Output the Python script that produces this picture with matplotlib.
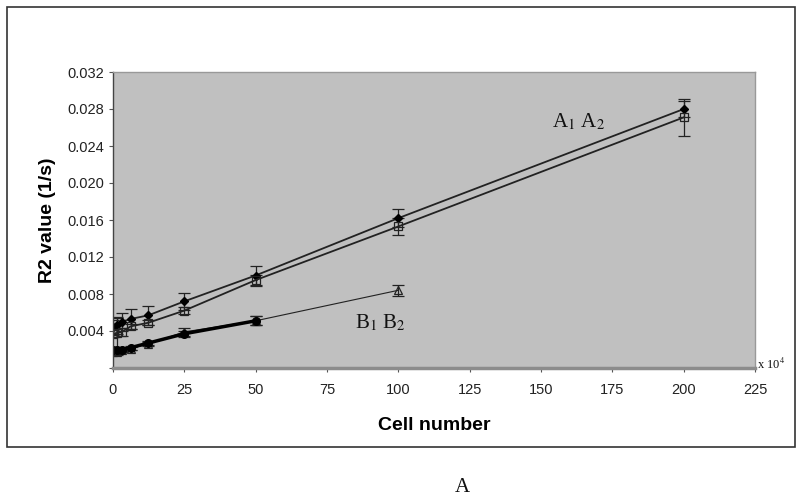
import matplotlib
matplotlib.use("Agg")
import matplotlib.pyplot as plt
from matplotlib.patches import Rectangle
from matplotlib import font_manager

cells = [0, 1.56, 3.125, 6.25, 12.5, 25, 50, 100, 200]
a1 = [0.0044, 0.0046, 0.0050, 0.0053, 0.0057, 0.0072, 0.0100, 0.0162, 0.0280]
a1_err = [0.0008, 0.0009, 0.0010, 0.0011, 0.0010, 0.0009, 0.0010, 0.0010, 0.0009]
a2 = [0.0037, 0.0038, 0.0039, 0.0045, 0.0049, 0.0062, 0.0095, 0.0153, 0.0271]
a2_err = [0.0004, 0.0016, 0.0004, 0.0003, 0.0003, 0.0004, 0.0006, 0.0009, 0.0020]

cells_b1 = [0, 1.56, 3.125, 6.25, 12.5, 25, 50]
b1 = [0.0019, 0.0019, 0.0020, 0.0022, 0.0027, 0.0037, 0.0051]
b1_err = [0.0002, 0.0002, 0.0002, 0.0002, 0.0002, 0.0003, 0.0005]
cells_b2 = [0, 1.56, 3.125, 6.25, 12.5, 25, 50, 100]
b2 = [0.0017, 0.0017, 0.0019, 0.0021, 0.0026, 0.0039, 0.0051, 0.0084]
b2_err = [0.0003, 0.0003, 0.0002, 0.0002, 0.0002, 0.0004, 0.0005, 0.0006]

xticks = [0, 25, 50, 75, 100, 125, 150, 175, 200, 225]
yticks = [0.0, 0.004, 0.008, 0.012, 0.016, 0.020, 0.024, 0.028, 0.032]
ytick_labels = ["", "0.004", "0.008", "0.012", "0.016", "0.020", "0.024", "0.028", "0.032"]

avail = {f.name for f in font_manager.fontManager.ttflist}
narrow = "Liberation Sans Narrow" if "Liberation Sans Narrow" in avail else "Liberation Sans"

plt.rcParams["mathtext.fontset"] = "stix"

fig = plt.figure(figsize=(8, 5), dpi=100)
fig.patch.set_facecolor("white")
fig.patches.append(Rectangle((0.009, 0.107), 0.985, 0.879, transform=fig.transFigure,
                             fill=False, edgecolor="#333333", linewidth=1.2))

ax = fig.add_axes([0.141, 0.264, 0.803, 0.592])
ax.set_facecolor("#c0c0c0")

ek = dict(ecolor="#222222", elinewidth=0.9, capsize=4, capthick=0.9)
ax.errorbar(cells, a1, yerr=a1_err, color="#222222", lw=1.3, marker="D", ms=4.5,
            mfc="black", mec="black", **ek)
ax.errorbar(cells, a2, yerr=a2_err, color="#222222", lw=1.3, marker="s", ms=6,
            mfc="none", mec="#222222", mew=0.9, **ek)
ax.errorbar(cells_b2, b2, yerr=b2_err, color="#222222", lw=0.8, marker="^", ms=6,
            mfc="none", mec="#222222", mew=0.9, **ek)
ax.errorbar(cells_b1, b1, yerr=b1_err, color="black", lw=2.5, marker="o", ms=5.5,
            mfc="black", mec="black", **ek)

ax.set_xlim(0, 225)
ax.set_ylim(0, 0.032)
ax.set_xticks(xticks)
ax.set_xticklabels([str(t) for t in xticks], fontfamily=narrow, fontsize=10.5, color="#222222")
ax.set_yticks(yticks)
ax.set_yticklabels(ytick_labels, fontfamily=narrow, fontsize=10.5, color="#222222")
ax.tick_params(axis="both", direction="out", length=3, width=0.8, color="#555555")
ax.tick_params(axis="x", pad=8)
ax.tick_params(axis="y", pad=3)

for side in ["top", "right"]:
    ax.spines[side].set_color("#999999")
    ax.spines[side].set_linewidth(1.0)
ax.spines["left"].set_color("#444444")
ax.spines["left"].set_linewidth(1.0)
ax.spines["bottom"].set_color("#8c8c8c")
ax.spines["bottom"].set_linewidth(2.5)

ax.set_ylabel("R2 value (1/s)", fontfamily="Liberation Sans", fontweight="bold",
              fontsize=14, labelpad=8)
ax.set_xlabel("Cell number", fontfamily=narrow, fontweight="bold", fontsize=14, labelpad=14)

ax.text(154, 0.0266, r"A$_1$ A$_2$", fontfamily="Liberation Serif", fontsize=15,
        va="center", ha="left", color="#111111")
ax.text(85, 0.0049, r"B$_1$ B$_2$", fontfamily="Liberation Serif", fontsize=15,
        va="center", ha="left", color="#111111")
ax.text(1.003, 0.012, r"x 10$^4$", transform=ax.transAxes, fontfamily="Liberation Serif",
        fontsize=9, va="center", ha="left", color="#111111")

fig.text(0.578, 0.024, "A", fontfamily="Liberation Serif", fontsize=15, ha="center",
         va="center", color="#111111")

fig.savefig("out.png", dpi=100)
